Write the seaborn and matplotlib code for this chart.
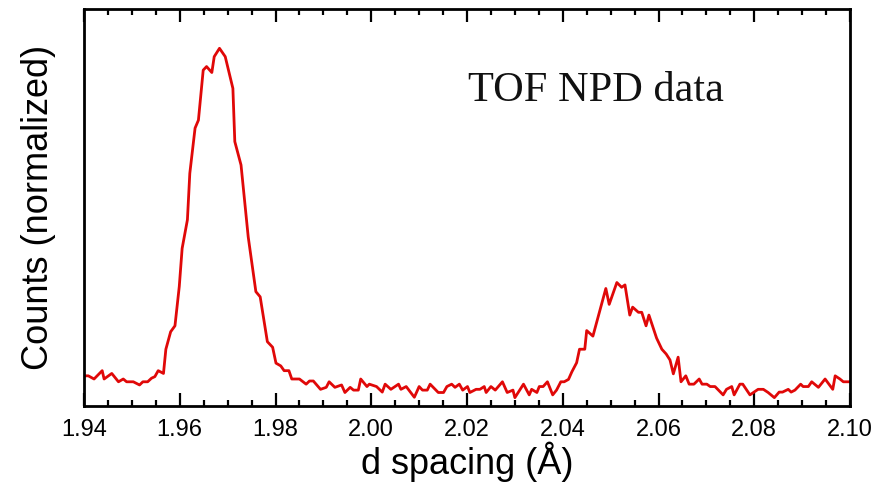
import matplotlib
matplotlib.use("Agg")
import matplotlib.pyplot as plt
from matplotlib.ticker import MultipleLocator, FormatStrFormatter
import seaborn as sns
import pandas as pd

# d spacing (Å)
d_spacing = [
    1.9400, 1.9409, 1.9421, 1.9438, 1.9442, 1.9458, 1.9472, 1.9482, 1.9489, 1.9503,
    1.9516, 1.9523, 1.9533, 1.9541, 1.9548, 1.9555, 1.9566, 1.9571, 1.9581, 1.9590,
    1.9599, 1.9605, 1.9616, 1.9621, 1.9632, 1.9639, 1.9649, 1.9656, 1.9667, 1.9672,
    1.9683, 1.9695, 1.9711, 1.9715, 1.9728, 1.9743, 1.9759, 1.9768, 1.9783, 1.9794,
    1.9801, 1.9811, 1.9818, 1.9828, 1.9834, 1.9850, 1.9864, 1.9871, 1.9879, 1.9894,
    1.9906, 1.9912, 1.9924, 1.9938, 1.9945, 1.9956, 1.9963, 1.9973, 1.9978, 1.9991,
    1.9996, 2.0011, 2.0023, 2.0029, 2.0041, 2.0057, 2.0062, 2.0073, 2.0090, 2.0100,
    2.0107, 2.0117, 2.0123, 2.0140, 2.0151, 2.0158, 2.0168, 2.0175, 2.0184, 2.0191,
    2.0201, 2.0206, 2.0219, 2.0227, 2.0236, 2.0240, 2.0250, 2.0259, 2.0274, 2.0284,
    2.0296, 2.0300, 2.0318, 2.0330, 2.0335, 2.0346, 2.0351, 2.0359, 2.0368, 2.0379,
    2.0387, 2.0396, 2.0403, 2.0412, 2.0419, 2.0429, 2.0435, 2.0446, 2.0450, 2.0463,
    2.0490, 2.0497, 2.0513, 2.0523, 2.0530, 2.0540, 2.0546, 2.0558, 2.0565, 2.0574,
    2.0580, 2.0596, 2.0607, 2.0616, 2.0624, 2.0631, 2.0641, 2.0647, 2.0657, 2.0664,
    2.0674, 2.0685, 2.0691, 2.0701, 2.0708, 2.0718, 2.0735, 2.0742, 2.0753, 2.0758,
    2.0770, 2.0776, 2.0791, 2.0808, 2.0819, 2.0829, 2.0842, 2.0852, 2.0859, 2.0871,
    2.0877, 2.0885, 2.0897, 2.0902, 2.0913, 2.0920, 2.0934, 2.0948, 2.0964, 2.0969,
    2.0979, 2.0986, 2.1000,
]

# normalized counts
counts = [
    0.076, 0.076, 0.068, 0.089, 0.068, 0.082, 0.061, 0.068, 0.061, 0.061,
    0.053, 0.061, 0.061, 0.070, 0.074, 0.089, 0.082, 0.143, 0.187, 0.202,
    0.301, 0.397, 0.469, 0.586, 0.700, 0.720, 0.846, 0.855, 0.840, 0.880,
    0.901, 0.880, 0.800, 0.666, 0.607, 0.426, 0.288, 0.275, 0.162, 0.148,
    0.108, 0.101, 0.089, 0.089, 0.068, 0.068, 0.055, 0.063, 0.063, 0.042,
    0.047, 0.061, 0.047, 0.053, 0.034, 0.047, 0.040, 0.040, 0.068, 0.049,
    0.055, 0.049, 0.035, 0.055, 0.042, 0.055, 0.042, 0.049, 0.022, 0.049,
    0.040, 0.040, 0.055, 0.034, 0.034, 0.049, 0.055, 0.047, 0.055, 0.040,
    0.049, 0.034, 0.042, 0.042, 0.049, 0.034, 0.049, 0.040, 0.061, 0.034,
    0.040, 0.021, 0.055, 0.028, 0.042, 0.034, 0.049, 0.049, 0.061, 0.028,
    0.040, 0.061, 0.061, 0.067, 0.086, 0.109, 0.143, 0.143, 0.190, 0.176,
    0.296, 0.256, 0.311, 0.299, 0.305, 0.229, 0.249, 0.236, 0.236, 0.202,
    0.229, 0.171, 0.143, 0.131, 0.116, 0.081, 0.123, 0.061, 0.076, 0.055,
    0.055, 0.068, 0.055, 0.055, 0.049, 0.049, 0.028, 0.042, 0.049, 0.028,
    0.055, 0.055, 0.028, 0.042, 0.042, 0.034, 0.021, 0.035, 0.035, 0.042,
    0.035, 0.040, 0.055, 0.049, 0.049, 0.061, 0.047, 0.068, 0.042, 0.076,
    0.068, 0.061, 0.061,
]

x_ticks = [1.94, 1.96, 1.98, 2.00, 2.02, 2.04, 2.06, 2.08, 2.10]
x_label = "d spacing (Å)"
y_label = "Counts (normalized)"
annotation = "TOF NPD data"

df = pd.DataFrame({"d": d_spacing, "counts": counts})

sns.set_style("white")
plt.rcParams["font.family"] = ["Liberation Sans", "DejaVu Sans"]
plt.rcParams["text.color"] = "black"
plt.rcParams["axes.labelcolor"] = "black"

fig = plt.figure(figsize=(8.89, 4.82), dpi=100)
ax = fig.add_axes([84 / 889, 76 / 482, 766 / 889, 397 / 482])

sns.lineplot(data=df, x="d", y="counts", ax=ax, color="#e00808",
             linewidth=2.0, sort=False, estimator=None)

ax.set_xlim(1.94, 2.10)
ax.set_ylim(0, 1)
ax.set_xticks(x_ticks)
ax.xaxis.set_major_formatter(FormatStrFormatter("%.2f"))
ax.xaxis.set_minor_locator(MultipleLocator(0.005))
ax.set_yticks([])

ax.tick_params(axis="x", which="major", direction="in", top=True, bottom=True,
               length=9.5, width=1.6, labelsize=17, pad=9, colors="black")
ax.tick_params(axis="x", which="minor", direction="in", top=True, bottom=True,
               length=4.5, width=1.6, colors="black")

for s in ax.spines.values():
    s.set_visible(True)
    s.set_linewidth(2.0)
    s.set_color("black")

ax.set_xlabel(x_label, fontsize=26, labelpad=1, color="black")
ax.set_ylabel(y_label, fontsize=26, labelpad=20, color="black")

ax.text(0.501, 0.769, annotation, transform=ax.transAxes, ha="left",
        va="baseline", fontsize=30.5, family=["Liberation Serif", "DejaVu Serif"],
        color="#111111")

fig.savefig("out.png", dpi=100)
